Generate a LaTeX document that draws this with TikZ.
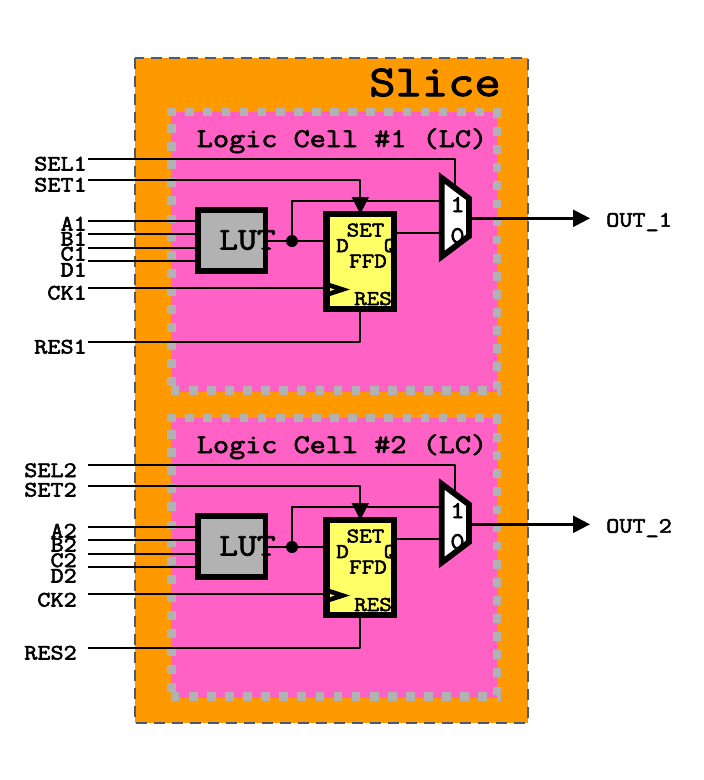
\documentclass[tikz,border=0pt]{standalone}
\usepackage{fontspec}
\usetikzlibrary{arrows.meta}
\newfontfamily\cfont{Latin Modern Mono}[FakeStretch=1.16,FakeBold=2.5]
\definecolor{sliceor}{RGB}{255,153,0}
\definecolor{cellpk}{RGB}{255,97,197}
\definecolor{lutgr}{RGB}{178,178,178}
\definecolor{ffy}{RGB}{255,255,102}
\definecolor{dashb}{RGB}{75,90,110}
\newcommand{\fsz}[1]{\cfont\fontsize{#1}{#1}\selectfont}
\tikzset{
 sig/.style={draw=black,line width=1.8pt,line join=round},
 lbl/.style={font=\fsz{22},text=black,inner sep=0pt,anchor=base east},
 blockbox/.style={draw=black,line width=5.8pt,inner sep=0pt,outer sep=0pt},
 ffbox/.style={draw=black,line width=6.5pt},
 celltitle/.style={font=\fsz{27},inner sep=0pt,anchor=base},
 ffl/.style={font=\fsz{21},inner sep=0pt,anchor=base},
 muxl/.style={font=\fsz{24},inner sep=0pt,anchor=base},
 cellborder/.style={lutgr,line width=8.5pt,dash pattern=on 8.7pt off 9.4pt},
 clk/.style={draw=black,line width=4.6pt,miter limit=10},
 outw/.style={draw=black,line width=2.4pt,-{Triangle[width=17pt,length=17pt]}},
}
\newcommand{\logiccell}[2]{%
 \begin{scope}[shift={(0,#1)}]
 \fill[cellpk] (171,112) rectangle (497,391.5);
 \draw[cellborder] (167.2,112) -- (501,112);
 \draw[cellborder] (497,109) -- (497,391.5);
 \draw[cellborder] (171.5,124) -- (171.5,391);
 \draw[cellborder] (170.7,390.7) -- (501,390.7);
 \node[celltitle] (title#2) at (342,147) {Logic Cell \##2 (LC)};
 \coordinate (sel#2) at (88,159);
 \coordinate (set#2) at (88,180);
 \coordinate (ina#2) at (88,221);
 \coordinate (inb#2) at (88,234.3);
 \coordinate (inc#2) at (88,247.7);
 \coordinate (ind#2) at (88,261);
 \coordinate (ck#2) at (88,288.3);
 \coordinate (res#2) at (88,342.3);
 \coordinate (fbk#2) at (292,201);
 \coordinate (dy#2) at (0,241);
 \coordinate (mxa#2) at (441.8,178);
 \coordinate (mxb#2) at (469,198.5);
 \coordinate (mxc#2) at (469,236);
 \coordinate (mxd#2) at (441.8,256.5);
 \coordinate (mxs#2) at (454.7,190);
 \coordinate (mxo#2) at (469,218.3);
 \coordinate (out#2) at (590,218.3);
 \draw[sig] (sel#2) -- (sel#2 -| mxs#2) -- (mxs#2);
 \node[blockbox,fill=lutgr,minimum width=67.5pt,minimum height=61pt] (lut#2) at (231.8,240.5) {};
 \node[font=\fsz{31.5},inner sep=0pt,anchor=base] (luttext#2) at (247.5,249.5) {LUT};
 \draw[sig] (ina#2) -- (ina#2 -| lut#2.west);
 \draw[sig] (inb#2) -- (inb#2 -| lut#2.west);
 \draw[sig] (inc#2) -- (inc#2 -| lut#2.west);
 \draw[sig] (ind#2) -- (ind#2 -| lut#2.west);
 \node[fill=ffy,inner sep=0pt,outer sep=0pt,minimum width=67.5pt,minimum height=95pt] (ff#2) at (360.3,261.5) {};
 \node[ffl] (settext#2) at (365.5,236.5) {SET};
 \node[ffl] (dtext#2) at (342.5,252) {D};
 \node[ffl] (qtext#2) at (390,252) {Q};
 \node[ffl] (ffdtext#2) at (368,267.5) {FFD};
 \node[ffl] (restext#2) at (373,305) {RES};
 \draw[ffbox] (ff#2.north west) rectangle (ff#2.south east);
 \draw[clk] (ff#2.west |- ck#2) ++(3,-3) coordinate (ckt#2) -- ++(13,4.2) -- ++(-13,4.2);
 \draw[sig] (lut#2.east |- dy#2) -- (ff#2.west |- dy#2);
 \fill[black] (fbk#2 |- dy#2) circle (6pt) coordinate (junc#2);
 \draw[sig] (junc#2) -- (fbk#2) -- (fbk#2 -| mxa#2);
 \draw[sig,-{Triangle[width=17pt,length=17pt]}] (set#2) -- (set#2 -| ff#2.north) -- (ff#2.north);
 \draw[sig] (ck#2) -- (ck#2 -| ff#2.west);
 \draw[sig] (res#2) -- (res#2 -| ff#2.south) -- (ff#2.south);
 \coordinate (qy#2) at (0,233.3);
 \draw[sig] (ff#2.east |- qy#2) -- (mxa#2 |- qy#2);
 \fill[white] (mxa#2) -- (mxb#2) -- (mxc#2) -- (mxd#2) -- cycle;
 \node[muxl] (one#2) at (457.5,212) {1};
 \node[muxl] (zero#2) at (457.5,243) {0};
 \draw[draw=black,line width=5.8pt,miter limit=10] (mxa#2) -- (mxb#2) -- (mxc#2) -- (mxd#2) -- cycle;
 \draw[outw] (mxo#2) -- (out#2);
 \end{scope}}
\begin{document}
\begin{tikzpicture}[x=1pt,y=-1pt]
\useasboundingbox (0,0) rectangle (704,780);
\fill[white] (0,0) rectangle (704,780);
\draw[dashb,fill=sliceor,line width=2pt,dash pattern=on 11pt off 7pt] (135,58) rectangle (528,722.7);
\node[font=\fsz{44},inner sep=0pt,anchor=base] (slice) at (435,96) {Slice};
\logiccell{0}{1}
\logiccell{306}{2}
\node[lbl] (lsel1) at (87,170.5) {SEL1};
\node[lbl] (lset1) at (87,191.5) {SET1};
\node[lbl] (la1) at (87,230.5) {A1};
\node[lbl] (lb1) at (87,245.5) {B1};
\node[lbl] (lc1) at (87,260.5) {C1};
\node[lbl] (ld1) at (87,276.5) {D1};
\node[lbl] (lck1) at (87,299.5) {CK1};
\node[lbl] (lres1) at (87,353.5) {RES1};
\node[lbl] (lsel2) at (77,477) {SEL2};
\node[lbl] (lset2) at (77,496.5) {SET2};
\node[lbl] (la2) at (77,537.5) {A2};
\node[lbl] (lb2) at (77,551.5) {B2};
\node[lbl] (lc2) at (77,567) {C2};
\node[lbl] (ld2) at (77,582.5) {D2};
\node[lbl] (lck2) at (77,606.5) {CK2};
\node[lbl] (lres2) at (77,659.5) {RES2};
\node[lbl,anchor=base west] (lout1) at (606,226.7) {OUT\_1};
\node[lbl,anchor=base west] (lout2) at (606,532.7) {OUT\_2};
\end{tikzpicture}
\end{document}
